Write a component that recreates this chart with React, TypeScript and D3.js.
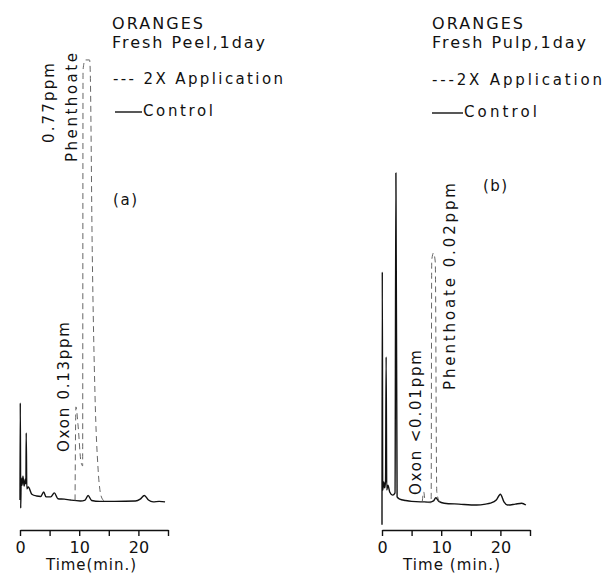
import React, { useEffect, useRef } from 'react';
import * as d3 from 'd3';

type Pt = [number, number];

// [time (min), detector response]
const peelControl: Pt[] = [
  [0.0, 1.1], [0.05, 22.7], [0.12, -0.7], [0.2, 6.0], [0.35, 4.4], [0.5, 6.4],
  [0.7, 4.2], [0.9, 5.8], [1.0, 4.7], [1.05, 16.0], [1.15, 3.6], [1.4, 4.0],
  [2.0, 2.4], [2.8, 2.0], [3.5, 1.9], [4.0, 2.9], [4.4, 1.8], [5.2, 1.8],
  [5.8, 2.7], [6.4, 1.4], [7.5, 1.3], [8.5, 1.1], [10.2, 0.9], [11.0, 1.1],
  [11.5, 2.1], [12.1, 1.0], [13.5, 0.8], [16.0, 0.8], [19.5, 0.9], [20.3, 1.3],
  [21.0, 2.1], [21.7, 1.1], [22.5, 0.7], [23.5, 0.8], [24.5, 0.7]
];

const peelApplication: Pt[] = [
  [9.3, 1.0], [9.45, 21.8], [9.8, 17.8], [10.3, 9.6], [10.58, 8.7], [10.65, 96.7],
  [11.0, 98.9], [11.75, 98.9], [11.85, 97.1], [12.2, 56.7], [12.67, 24.4],
  [13.2, 7.8], [13.7, 2.0], [14.2, 0.9]
];

const pulpControl: Pt[] = [
  [0.0, -4.4], [0.05, 51.8], [0.12, 3.3], [0.3, 5.1], [0.45, 3.8], [0.6, 5.3],
  [0.7, 32.9], [0.8, 3.3], [1.0, 4.4], [1.3, 2.9], [1.8, 2.2], [2.2, 2.7],
  [2.35, 73.8], [2.55, 1.8], [3.0, 1.3], [4.0, 1.0], [5.0, 0.8], [6.5, 0.7],
  [7.2, 0.7], [8.0, 0.6], [8.7, 0.9], [9.1, 1.6], [9.6, 0.8], [10.5, 0.4],
  [13.0, 0.2], [16.0, 0.0], [17.5, 0.2], [18.3, 0.4], [19.3, 1.1], [20.0, 2.4],
  [20.6, 0.7], [21.2, 0.0], [22.5, 0.2], [23.6, 0.4], [24.3, 0.0]
];

const pulpApplication: Pt[] = [
  [6.8, 0.7], [7.05, 2.9], [7.3, 0.7], [8.3, 0.5], [8.4, 54.4], [8.7, 56.0],
  [9.0, 54.0], [9.25, 3.0], [9.7, 0.7]
];

const timeTicks = [0, 5, 10, 15, 20, 25];
const timeLabels = ['0', '', '10', '', '20', ''];

type Label = { text: string; x: number; y: number; size: number; len: number; rotate?: boolean };

const panels = [
  {
    left: 20, right: 168, axisY: 530,
    control: peelControl, application: peelApplication,
    legendLine: [115, 142, 112],
    labels: [
      { text: 'ORANGES', x: 112, y: 29, size: 16, len: 91 },
      { text: 'Fresh Peel,1day', x: 112, y: 48, size: 16, len: 153 },
      { text: '--- 2X Application', x: 113, y: 84, size: 15, len: 170 },
      { text: 'Control', x: 143, y: 116, size: 15, len: 70 },
      { text: '(a)', x: 113, y: 205, size: 15, len: 24 },
      { text: '0.77ppm', x: 54, y: 103, size: 15, len: 80, rotate: true },
      { text: 'Phenthoate', x: 77, y: 107.5, size: 15, len: 109, rotate: true },
      { text: 'Oxon 0.13ppm', x: 69, y: 387, size: 15, len: 130, rotate: true }
    ] as Label[],
    timeTitle: { text: 'Time(min.)', x: 91, y: 570, len: 90 }
  },
  {
    left: 382, right: 530, axisY: 530,
    control: pulpControl, application: pulpApplication,
    legendLine: [432, 463, 113],
    labels: [
      { text: 'ORANGES', x: 432, y: 29, size: 16, len: 91 },
      { text: 'Fresh Pulp,1day', x: 432, y: 48, size: 16, len: 154 },
      { text: '---2X Application', x: 432, y: 85, size: 15, len: 170 },
      { text: 'Control', x: 464, y: 117, size: 15, len: 73 },
      { text: '(b)', x: 483, y: 191, size: 15, len: 24 },
      { text: 'Oxon <0.01ppm', x: 421, y: 422.5, size: 15, len: 145, rotate: true },
      { text: 'Phenthoate 0.02ppm', x: 455, y: 286.5, size: 15, len: 207, rotate: true }
    ] as Label[],
    timeTitle: { text: 'Time (min.)', x: 451.5, y: 570, len: 97 }
  }
];

const App = () => {
  const ref = useRef<SVGSVGElement>(null);

  useEffect(() => {
    const svg = d3.select(ref.current);
    svg.selectAll('*').remove();
    svg.attr('font-family', '"DejaVu Sans", sans-serif').attr('fill', '#111');

    const y = d3.scaleLinear().domain([0, 100]).range([505, 55]);

    panels.forEach(p => {
      const x = d3.scaleLinear().domain([0, 25]).range([p.left, p.right]);
      const g = svg.append('g');

      const line = d3
        .line<Pt>()
        .x(d => x(d[0]))
        .y(d => y(d[1]))
        .curve(d3.curveMonotoneX);

      g.append('path')
        .attr('d', line(p.control))
        .attr('fill', 'none')
        .attr('stroke', '#111')
        .attr('stroke-width', 1.4)
        .attr('stroke-linejoin', 'round');

      g.append('path')
        .attr('d', line(p.application))
        .attr('fill', 'none')
        .attr('stroke', '#555')
        .attr('stroke-width', 0.9)
        .attr('stroke-dasharray', '6,4');

      const axis = d3
        .axisBottom(x)
        .tickValues(timeTicks)
        .tickFormat((d, i) => timeLabels[i])
        .tickSize(6)
        .tickSizeOuter(0)
        .tickPadding(6);

      const ax = g
        .append('g')
        .attr('transform', `translate(0,${p.axisY})`)
        .call(axis);
      ax.select('.domain').attr('stroke', '#111').attr('stroke-width', 1.4);
      ax.selectAll('.tick line').attr('stroke', '#111').attr('stroke-width', 1.4);
      ax.selectAll('.tick text')
        .attr('font-family', '"DejaVu Sans", sans-serif')
        .attr('font-size', 16)
        .attr('fill', '#111');

      g.append('text')
        .attr('x', p.timeTitle.x)
        .attr('y', p.timeTitle.y)
        .attr('text-anchor', 'middle')
        .attr('font-size', 15)
        .attr('textLength', p.timeTitle.len)
        .text(p.timeTitle.text);

      const [lx1, lx2, ly] = p.legendLine;
      g.append('line')
        .attr('x1', lx1)
        .attr('x2', lx2)
        .attr('y1', ly)
        .attr('y2', ly)
        .attr('stroke', '#111')
        .attr('stroke-width', 1.4);

      p.labels.forEach(l => {
        const t = g
          .append('text')
          .attr('font-size', l.size)
          .attr('textLength', l.len)
          .text(l.text);
        if (l.rotate) {
          t.attr('transform', `translate(${l.x},${l.y}) rotate(-90)`).attr('text-anchor', 'middle');
        } else {
          t.attr('x', l.x).attr('y', l.y);
        }
      });
    });
  }, []);

  return (
    <svg
      ref={ref}
      width={605}
      height={575}
      style={{ position: 'absolute', left: 0, top: 0, background: '#fff' }}
    />
  );
};

export default App;
